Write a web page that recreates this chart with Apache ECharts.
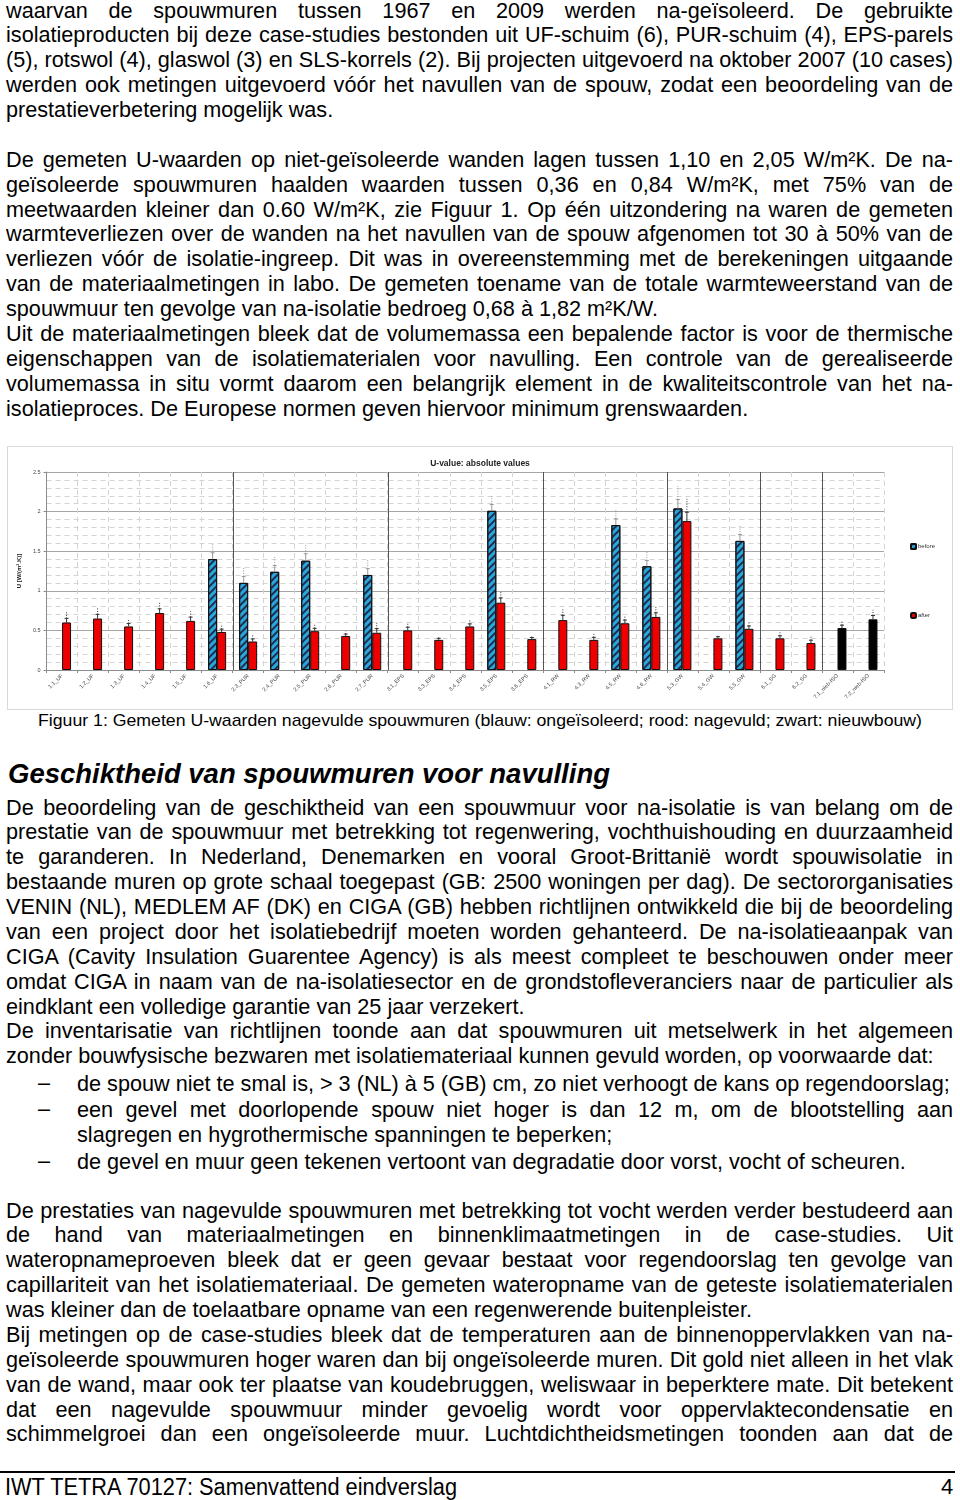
<!DOCTYPE html>
<html><head><meta charset="utf-8">
<script src="https://cdn.jsdelivr.net/npm/echarts@6/dist/echarts.min.js"></script>
<style>
html,body{margin:0;padding:0;background:#fff;}
body{width:960px;height:1500px;position:relative;overflow:hidden;font-family:"Liberation Sans",Arial,sans-serif;color:#000;}
.blk{position:absolute;left:6px;width:947px;font-size:21.65px;}
.blk div{height:24.88px;line-height:24.88px;white-space:nowrap;}
.j span,.l span{display:inline-block;}
.fit{position:absolute;white-space:nowrap;transform-origin:0 50%;}
#chart{position:absolute;left:8px;top:447px;width:944px;height:262px;outline:1px solid #d9d9d9;}
.dash{position:absolute;left:38px;font-size:21.65px;}
.bl{position:absolute;left:77px;width:876px;font-size:21.65px;}
.bl div{height:25px;line-height:25px;white-space:nowrap;}
</style></head>
<body>
<div class="blk" style="top:-1.4px">
<div class="j"><span>waarvan de spouwmuren tussen 1967 en 2009 werden na-geïsoleerd. De gebruikte</span></div>
<div class="j"><span>isolatieproducten bij deze case-studies bestonden uit UF-schuim (6), PUR-schuim (4), EPS-parels</span></div>
<div class="j"><span>(5), rotswol (4), glaswol (3) en SLS-korrels (2). Bij projecten uitgevoerd na oktober 2007 (10 cases)</span></div>
<div class="j"><span>werden ook metingen uitgevoerd vóór het navullen van de spouw, zodat een beoordeling van de</span></div>
<div class="l"><span>prestatieverbetering mogelijk was.</span></div>
<div></div>
<div class="j"><span>De gemeten U-waarden op niet-geïsoleerde wanden lagen tussen 1,10 en 2,05 W/m²K. De na-</span></div>
<div class="j"><span>geïsoleerde spouwmuren haalden waarden tussen 0,36 en 0,84 W/m²K, met 75% van de</span></div>
<div class="j"><span>meetwaarden kleiner dan 0.60 W/m²K, zie Figuur 1. Op één uitzondering na waren de gemeten</span></div>
<div class="j"><span>warmteverliezen over de wanden na het navullen van de spouw afgenomen tot 30 à 50% van de</span></div>
<div class="j"><span>verliezen vóór de isolatie-ingreep. Dit was in overeenstemming met de berekeningen uitgaande</span></div>
<div class="j"><span>van de materiaalmetingen in labo. De gemeten toename van de totale warmteweerstand van de</span></div>
<div class="l"><span>spouwmuur ten gevolge van na-isolatie bedroeg 0,68 à 1,82 m²K/W.</span></div>
<div class="j"><span>Uit de materiaalmetingen bleek dat de volumemassa een bepalende factor is voor de thermische</span></div>
<div class="j"><span>eigenschappen van de isolatiematerialen voor navulling. Een controle van de gerealiseerde</span></div>
<div class="j"><span>volumemassa in situ vormt daarom een belangrijk element in de kwaliteitscontrole van het na-</span></div>
<div class="l"><span>isolatieproces. De Europese normen geven hiervoor minimum grenswaarden.</span></div>
</div>

<div id="chart"></div>

<div class="fit" id="caption" data-x="38" data-w="884" style="top:709px;font-size:17px;line-height:24px;">Figuur 1: Gemeten U-waarden nagevulde spouwmuren (blauw: ongeïsoleerd; rood: nagevuld; zwart: nieuwbouw)</div>
<div class="fit" id="heading" data-x="8" data-w="602" style="top:757px;font-size:27px;line-height:34px;font-weight:bold;font-style:italic;">Geschiktheid van spouwmuren voor navulling</div>

<div class="blk" style="top:795.6px">
<div class="j"><span>De beoordeling van de geschiktheid van een spouwmuur voor na-isolatie is van belang om de</span></div>
<div class="j"><span>prestatie van de spouwmuur met betrekking tot regenwering, vochthuishouding en duurzaamheid</span></div>
<div class="j"><span>te garanderen. In Nederland, Denemarken en vooral Groot-Brittanië wordt spouwisolatie in</span></div>
<div class="j"><span>bestaande muren op grote schaal toegepast (GB: 2500 woningen per dag). De sectororganisaties</span></div>
<div class="j"><span>VENIN (NL), MEDLEM AF (DK) en CIGA (GB) hebben richtlijnen ontwikkeld die bij de beoordeling</span></div>
<div class="j"><span>van een project door het isolatiebedrijf moeten worden gehanteerd. De na-isolatieaanpak van</span></div>
<div class="j"><span>CIGA (Cavity Insulation Guarentee Agency) is als meest compleet te beschouwen onder meer</span></div>
<div class="j"><span>omdat CIGA in naam van de na-isolatiesector en de grondstofleveranciers naar de particulier als</span></div>
<div class="l"><span>eindklant een volledige garantie van 25 jaar verzekert.</span></div>
<div class="j"><span>De inventarisatie van richtlijnen toonde aan dat spouwmuren uit metselwerk in het algemeen</span></div>
<div class="l"><span>zonder bouwfysische bezwaren met isolatiemateriaal kunnen gevuld worden, op voorwaarde dat:</span></div>
</div>

<div class="dash" style="top:1070px;line-height:25px;">–</div>
<div class="dash" style="top:1096px;line-height:25px;">–</div>
<div class="dash" style="top:1148px;line-height:25px;">–</div>
<div class="bl" style="top:1070.5px"><div class="l"><span>de spouw niet te smal is, &gt; 3 (NL) à 5 (GB) cm, zo niet verhoogt de kans op regendoorslag;</span></div></div>
<div class="bl" style="top:1096.5px"><div class="j"><span>een gevel met doorlopende spouw niet hoger is dan 12 m, om de blootstelling aan</span></div>
<div class="l"><span>slagregen en hygrothermische spanningen te beperken;</span></div></div>
<div class="bl" style="top:1148.5px"><div class="l"><span>de gevel en muur geen tekenen vertoont van degradatie door vorst, vocht of scheuren.</span></div></div>

<div class="blk" style="top:1198.6px">
<div class="j"><span>De prestaties van nagevulde spouwmuren met betrekking tot vocht werden verder bestudeerd aan</span></div>
<div class="j"><span>de hand van materiaalmetingen en binnenklimaatmetingen in de case-studies. Uit</span></div>
<div class="j"><span>wateropnameproeven bleek dat er geen gevaar bestaat voor regendoorslag ten gevolge van</span></div>
<div class="j"><span>capillariteit van het isolatiemateriaal. De gemeten wateropname van de geteste isolatiematerialen</span></div>
<div class="l"><span>was kleiner dan de toelaatbare opname van een regenwerende buitenpleister.</span></div>
<div class="j"><span>Bij metingen op de case-studies bleek dat de temperaturen aan de binnenoppervlakken van na-</span></div>
<div class="j"><span>geïsoleerde spouwmuren hoger waren dan bij ongeïsoleerde muren. Dit gold niet alleen in het vlak</span></div>
<div class="j"><span>van de wand, maar ook ter plaatse van koudebruggen, weliswaar in beperktere mate. Dit betekent</span></div>
<div class="j"><span>dat een nagevulde spouwmuur minder gevoelig wordt voor oppervlaktecondensatie en</span></div>
<div class="j"><span>schimmelgroei dan een ongeïsoleerde muur. Luchtdichtheidsmetingen toonden aan dat de</span></div>
</div>

<div style="position:absolute;left:0;top:1471px;width:955px;height:2px;background:#000;"></div>
<div class="fit" id="footer" data-x="5" data-w="452" style="top:1473px;font-size:23.5px;line-height:28px;">IWT TETRA 70127: Samenvattend eindverslag</div>
<div style="position:absolute;left:941px;top:1473px;font-size:22px;line-height:28px;">4</div>

<script>
// ---- data ----
var categories = ['1.1_UF','1.2_UF','1.3_UF','1.4_UF','1.5_UF','1.6_UF','2.3_PUR','2.4_PUR','2.5_PUR','2.6_PUR','2.7_PUR','3.1_EPS','3.3_EPS','3.4_EPS','3.5_EPS','3.6_EPS','4.1_RW','4.3_RW','4.5_RW','4.6_RW','5.3_GW','5.4_GW','5.5_GW','6.1_SG','6.2_SG','7.1_nieb-ISO','7.2_nieb-ISO'];
var before = [null,null,null,null,null,1.40,1.10,1.24,1.38,null,1.20,null,null,null,2.01,null,null,null,1.83,1.31,2.04,null,1.63,null,null,null,null];
var after = [0.60,0.65,0.55,0.72,0.62,0.48,0.36,null,0.49,0.43,0.47,0.50,0.38,0.55,0.85,0.39,0.63,0.38,0.59,0.67,1.88,0.40,0.52,0.40,0.34,null,null];
var newBuild = [null,null,null,null,null,null,null,null,null,null,null,null,null,null,null,null,null,null,null,null,null,null,null,null,null,0.53,0.64];
var errBefore = [null,null,null,null,null,0.20,0.20,0.20,0.22,null,0.20,null,null,null,0.20,null,null,null,0.20,0.18,0.28,null,0.20,null,null,null,null];
var errAfter = [0.13,0.13,0.09,0.13,0.12,0.09,0.08,null,0.09,0.06,0.13,0.10,0.05,0.08,0.15,0.05,0.15,0.08,0.10,0.13,0.28,0.05,0.09,0.08,0.09,0.09,0.12];
var groupEnds = [5,10,15,19,22,24];
var yTicks = {min:0, max:2.5, interval:0.5};

// ---- text fitting ----
document.querySelectorAll('.j').forEach(function(el){
  var sp = el.firstChild; var W = el.parentNode.getBoundingClientRect().width;
  var w = sp.getBoundingClientRect().width;
  var n = (sp.textContent.match(/ /g)||[]).length;
  if(n>0) sp.style.wordSpacing = ((W - w)/n) + 'px';
});
document.querySelectorAll('.fit').forEach(function(el){
  el.style.left = el.dataset.x + 'px';
  var w = el.getBoundingClientRect().width;
  el.style.transform = 'scaleX(' + (parseFloat(el.dataset.w)/w) + ')';
});

// ---- chart ----
var chart = echarts.init(document.getElementById('chart'), null, {renderer:'canvas'});
var BW = 9;
var afterData = after.map(function(v,i){
  if(newBuild[i]!=null) return {value:newBuild[i], itemStyle:{color:'#000'}};
  return v;
});
function errData(vals, errs){
  var out=[];
  vals.forEach(function(v,i){ if(v!=null && errs[i]!=null) out.push([i, v, errs[i]]); });
  return out;
}
var afterVals = after.map(function(v,i){ return v!=null ? v : newBuild[i]; });
function errRender(dx, color){
  return function(params, api){
    var i = api.value(0), v = api.value(1), e = api.value(2);
    var p0 = api.coord([i, v]), pm = api.coord([i, v + e*0.4]), p1 = api.coord([i, v + e]);
    var x = p0[0] + dx;
    return {type:'group', children:[
      {type:'line', shape:{x1:x,y1:p0[1],x2:x,y2:pm[1]}, style:{stroke:color, lineWidth:1}},
      {type:'line', shape:{x1:x-2,y1:pm[1],x2:x+2,y2:pm[1]}, style:{stroke:color, lineWidth:1}},
      {type:'line', shape:{x1:x,y1:pm[1],x2:x,y2:p1[1]}, style:{stroke:color, lineWidth:1, lineDash:[1,1.5]}}
    ]};
  };
}
chart.setOption({
  animation:false,
  textStyle:{fontFamily:'Liberation Sans, Arial, sans-serif'},
  title:{text:'U-value: absolute values', left:'center', top:7, textStyle:{fontSize:8.5, fontWeight:'bold', color:'#222'}},
  legend:{orient:'vertical', left:897, top:91, itemGap:62, itemWidth:5, itemHeight:5,
    textStyle:{fontSize:6, color:'#333', padding:[0,0,0,-3]}, data:['before','after']},
  grid:{left:33, top:25, right:68, bottom:39},
  xAxis:{type:'category', data:categories,
    axisLine:{lineStyle:{color:'#8c8c8c'}},
    axisTick:{show:true, length:3, lineStyle:{color:'#8c8c8c'}},
    axisLabel:{interval:0, rotate:45, fontSize:5.5, color:'#444', margin:5},
    splitLine:{show:true, interval:0, lineStyle:{color:'#d4d4d4', type:[5,4]}}},
  yAxis:{type:'value', min:yTicks.min, max:yTicks.max, interval:yTicks.interval,
    name:'U [W/(m².K)]', nameLocation:'middle', nameGap:21, nameRotate:90,
    nameTextStyle:{fontSize:6, fontWeight:'bold', color:'#222'},
    axisLine:{show:true, lineStyle:{color:'#8c8c8c'}},
    axisTick:{show:true, length:3, lineStyle:{color:'#8c8c8c'}},
    axisLabel:{fontSize:5.5, color:'#444', margin:6},
    splitLine:{show:true, lineStyle:{color:'#a6a6a6', width:1}},
    minorTick:{show:false, splitNumber:5},
    minorSplitLine:{show:true, lineStyle:{color:'#d4d4d4', type:[5,4]}}},
  series:[
    {name:'before', type:'bar', data:before, barWidth:BW, barGap:'0%',
      itemStyle:{color:'#2aa6de', borderColor:'#111', borderWidth:1,
        decal:{symbol:'rect', symbolSize:1, color:'#1d2f4c', dashArrayX:[1,0], dashArrayY:[1.6,2.2], rotation:-Math.PI/4}}},
    {name:'after', type:'bar', data:afterData, barWidth:BW, barGap:'0%',
      itemStyle:{color:'#ee0000', borderColor:'#111', borderWidth:1}},
    {type:'custom', silent:true, z:5, data:errData(before, errBefore), renderItem:errRender(-BW/2, '#9a9a9a'), encode:{x:0,y:1}},
    {type:'custom', silent:true, z:5, data:errData(afterVals, errAfter), renderItem:errRender(BW/2, '#333'), encode:{x:0,y:1}},
    {type:'custom', silent:true, z:1, data:groupEnds.map(function(i){return [i,0];}), encode:{x:0,y:1},
      renderItem:function(params, api){
        var i = api.value(0);
        var half = api.size([1,0])[0]/2;
        var b = api.coord([i, yTicks.min]), t = api.coord([i, yTicks.max]);
        var x = Math.round(b[0] + half) + 0.5;
        return {type:'line', shape:{x1:x,y1:t[1],x2:x,y2:b[1]}, style:{stroke:'#555', lineWidth:1}};
      }}
  ]
});
</script>
</body></html>
